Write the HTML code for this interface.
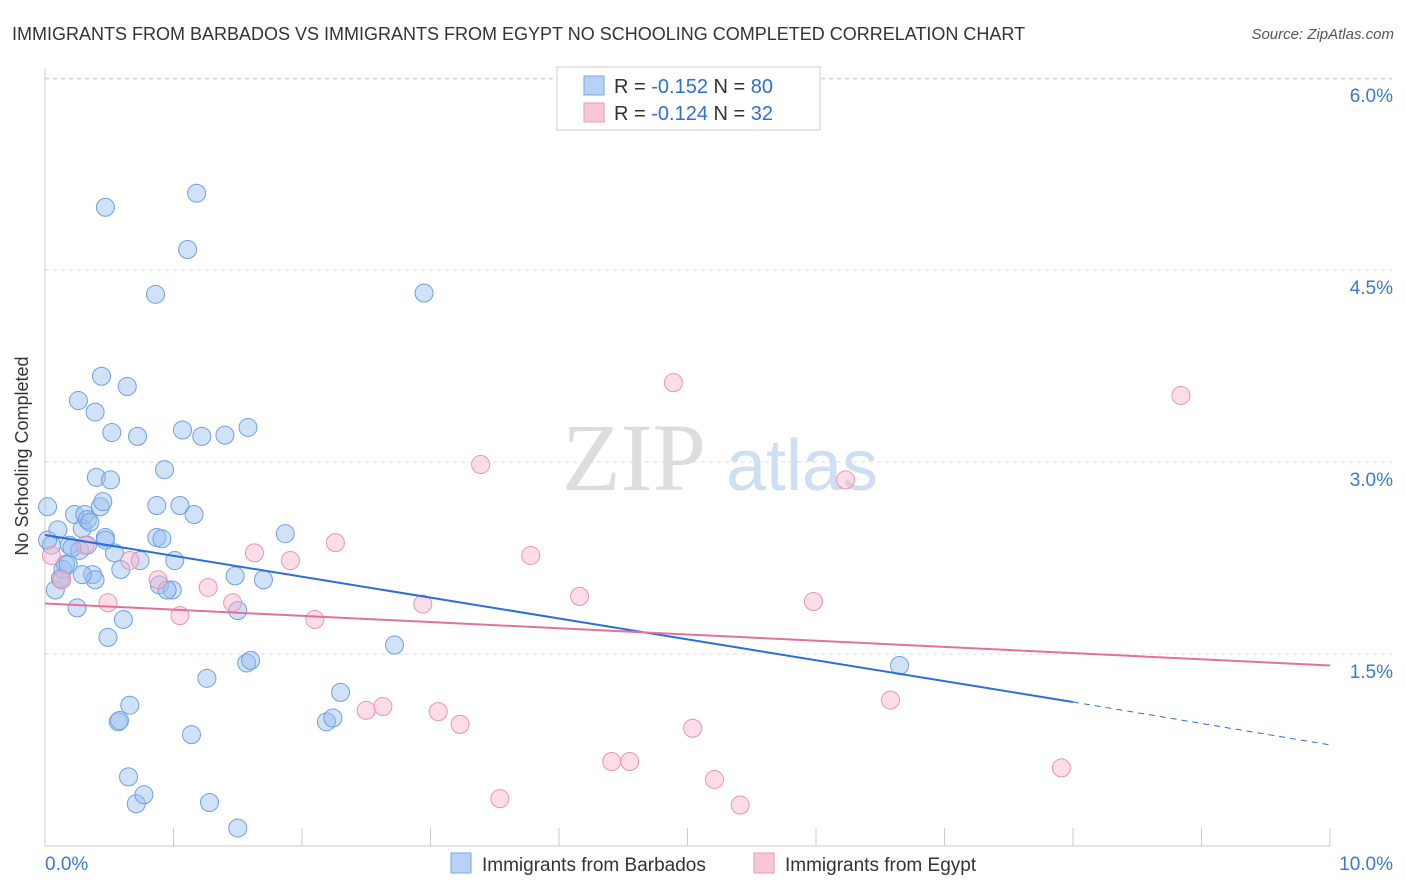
<!DOCTYPE html>
<html><head><meta charset="utf-8"><style>
body{margin:0;background:#fff;font-family:"Liberation Sans",sans-serif;}
#wrap{position:relative;width:1406px;height:892px;overflow:hidden;}
</style></head><body>
<div id="wrap">
<svg id="svg" width="1406" height="892" xmlns="http://www.w3.org/2000/svg">
<text x="12" y="40" font-size="18" fill="#333">IMMIGRANTS FROM BARBADOS VS IMMIGRANTS FROM EGYPT NO SCHOOLING COMPLETED CORRELATION CHART</text>
<text x="1394" y="39" font-size="15" fill="#555" font-style="italic" text-anchor="end">Source: ZipAtlas.com</text>
<text x="28" y="456" font-size="18" fill="#333" text-anchor="middle" transform="rotate(-90 28 456)">No Schooling Completed</text>
<g><text x="634" y="490" font-size="96" fill="#ddd" font-family="Liberation Serif,serif" text-anchor="middle">ZIP</text><text x="802" y="490" font-size="72" fill="#cfdff3" text-anchor="middle">atlas</text></g>
<g id="grid"></g><g id="marks"></g>
<g>
<rect x="557" y="67" width="263" height="63" fill="#fff" stroke="#ccc"/>
<rect x="584" y="76" width="20" height="19" fill="#b8d2f5" stroke="#7aa6e6"/>
<rect x="584" y="103" width="20" height="19" fill="#f9c6d6" stroke="#ec9ab5"/>
<text x="614" y="93" font-size="20" fill="#333">R = <tspan fill="#2d6fd6">-0.152</tspan>   N = <tspan fill="#2d6fd6">80</tspan></text>
<text x="614" y="120" font-size="20" fill="#333">R = <tspan fill="#2d6fd6">-0.124</tspan>   N = <tspan fill="#2d6fd6">32</tspan></text>
</g>
<g>
<rect x="451" y="853" width="20" height="20" fill="#b8d2f5" stroke="#7aa6e6"/>
<text x="482" y="871" font-size="19" fill="#333">Immigrants from Barbados</text>
<rect x="754" y="853" width="20" height="20" fill="#f9c6d6" stroke="#ec9ab5"/>
<text x="785" y="871" font-size="19" fill="#333">Immigrants from Egypt</text>
</g>
</svg></div>
<script>
const yTicks=[1.5,3.0,4.5,6.0];
const yTickLabels=["1.5%","3.0%","4.5%","6.0%"];
const xTickLabels=["0.0%","10.0%"];
const blueX=[0.02,0.05,0.08,0.10,0.12,0.14,0.16,0.18,0.19,0.23,0.25,0.27,0.29,0.31,0.33,0.35,0.37,0.39,0.40,0.43,0.45,0.47,0.47,0.49,0.51,0.52,0.54,0.57,0.58,0.59,0.61,0.64,0.65,0.66,0.71,0.72,0.74,0.77,0.86,0.87,0.87,0.89,0.91,0.93,0.99,1.01,1.05,1.07,1.11,1.14,1.16,1.18,1.22,1.26,1.28,1.40,1.48,1.50,1.50,1.57,1.58,1.60,1.70,1.87,2.19,2.24,2.30,2.72,2.95,6.65,0.44,0.26,0.39,0.29,0.02,0.33,0.13,0.21,0.47,0.95];
const blueY=[2.65,2.35,2.00,2.47,2.09,2.16,2.20,2.20,2.35,2.59,1.86,2.31,2.48,2.59,2.55,2.53,2.12,2.08,2.88,2.65,2.69,2.41,4.99,1.63,2.86,3.23,2.29,0.97,0.98,2.16,1.77,3.59,0.54,1.10,0.33,3.20,2.23,0.40,4.31,2.66,2.41,2.04,2.40,2.94,2.00,2.23,2.66,3.25,4.66,0.87,2.59,5.10,3.20,1.31,0.34,3.21,2.11,0.14,1.84,1.43,3.27,1.45,2.08,2.44,0.97,1.00,1.20,1.57,4.32,1.41,3.67,3.48,3.39,2.12,2.39,2.35,2.08,2.33,2.39,2.00];
const pinkX=[0.05,0.13,0.31,0.49,0.66,0.88,1.05,1.27,1.46,1.63,1.91,2.10,2.26,2.50,2.63,2.94,3.06,3.23,3.39,3.54,3.78,4.16,4.41,4.55,4.89,5.04,5.21,5.41,5.98,6.23,6.58,7.91,8.84];
const pinkY=[2.27,2.08,2.35,1.90,2.23,2.08,1.80,2.02,1.90,2.29,2.23,1.77,2.37,1.06,1.09,1.89,1.05,0.95,2.98,0.37,2.27,1.95,0.66,0.66,3.62,0.92,0.52,0.32,1.91,2.86,1.14,0.61,3.52];
const blueTrend=[2.43,1.125,0.79]; // y at x=0, x=8, x=10
const pinkTrend=[1.895,1.41];      // y at x=0, x=10
const X=v=>45+v*128.5, Y=v=>846-v*128;
const NS="http://www.w3.org/2000/svg";
function mk(t,a,p){const e=document.createElementNS(NS,t);for(const k in a)e.setAttribute(k,a[k]);p.appendChild(e);return e;}
const grid=document.getElementById('grid'),marks=document.getElementById('marks');
yTicks.forEach((t,i)=>{
 const l=mk('line',{x1:45,x2:1392,y1:Y(t),y2:Y(t),stroke:'#ddd','stroke-dasharray':'4,4'},grid);
 
 
 const tx=mk('text',{x:1393,y:Y(t)+24,'font-size':19,fill:'#3a78d8','text-anchor':'end'},grid);
 tx.textContent=yTickLabels[i];
 
 
});
const tl=mk('line',{x1:45,x2:1392,y1:79,y2:79,stroke:'#ddd','stroke-dasharray':'4,4'},grid);
const ya=mk('line',{x1:45,x2:45,y1:68,y2:846,stroke:'#ccc'},grid);


const xa=mk('line',{x1:45,x2:1330,y1:846,y2:846,stroke:'#ccc'},grid);


for(let i=0;i<=10;i++){const t=mk('line',{x1:X(i),x2:X(i),y1:828,y2:846,stroke:'#ccc'},grid);
 
 }
[[0,'start',45],[1,'end',1393]].forEach(([i,a,x])=>{const t=mk('text',{x:x,y:870,'font-size':19,fill:'#3a78d8','text-anchor':a},grid);t.textContent=xTickLabels[i];
 
 });
blueX.forEach((v,i)=>{const c=mk('circle',{cx:X(v),cy:Y(blueY[i]),r:9,fill:'rgba(150,190,240,0.45)',stroke:'#6f9fe2','stroke-width':1},marks);
 
 });
pinkX.forEach((v,i)=>{const c=mk('circle',{cx:X(v),cy:Y(pinkY[i]),r:9,fill:'rgba(248,180,204,0.45)',stroke:'#eb93b1','stroke-width':1},marks);
 
 });
const b1=mk('line',{x1:X(0),y1:Y(blueTrend[0]),x2:X(8),y2:Y(blueTrend[1]),stroke:'#2a6fd8','stroke-width':2},marks);


const b2=mk('line',{x1:X(8),y1:Y(blueTrend[1]),x2:X(10),y2:Y(blueTrend[2]),stroke:'#2a6fd8','stroke-width':1,'stroke-dasharray':'6,5'},marks);


const p1=mk('line',{x1:X(0),y1:Y(pinkTrend[0]),x2:X(10),y2:Y(pinkTrend[1]),stroke:'#e5709a','stroke-width':2},marks);


</script>
</body></html>
